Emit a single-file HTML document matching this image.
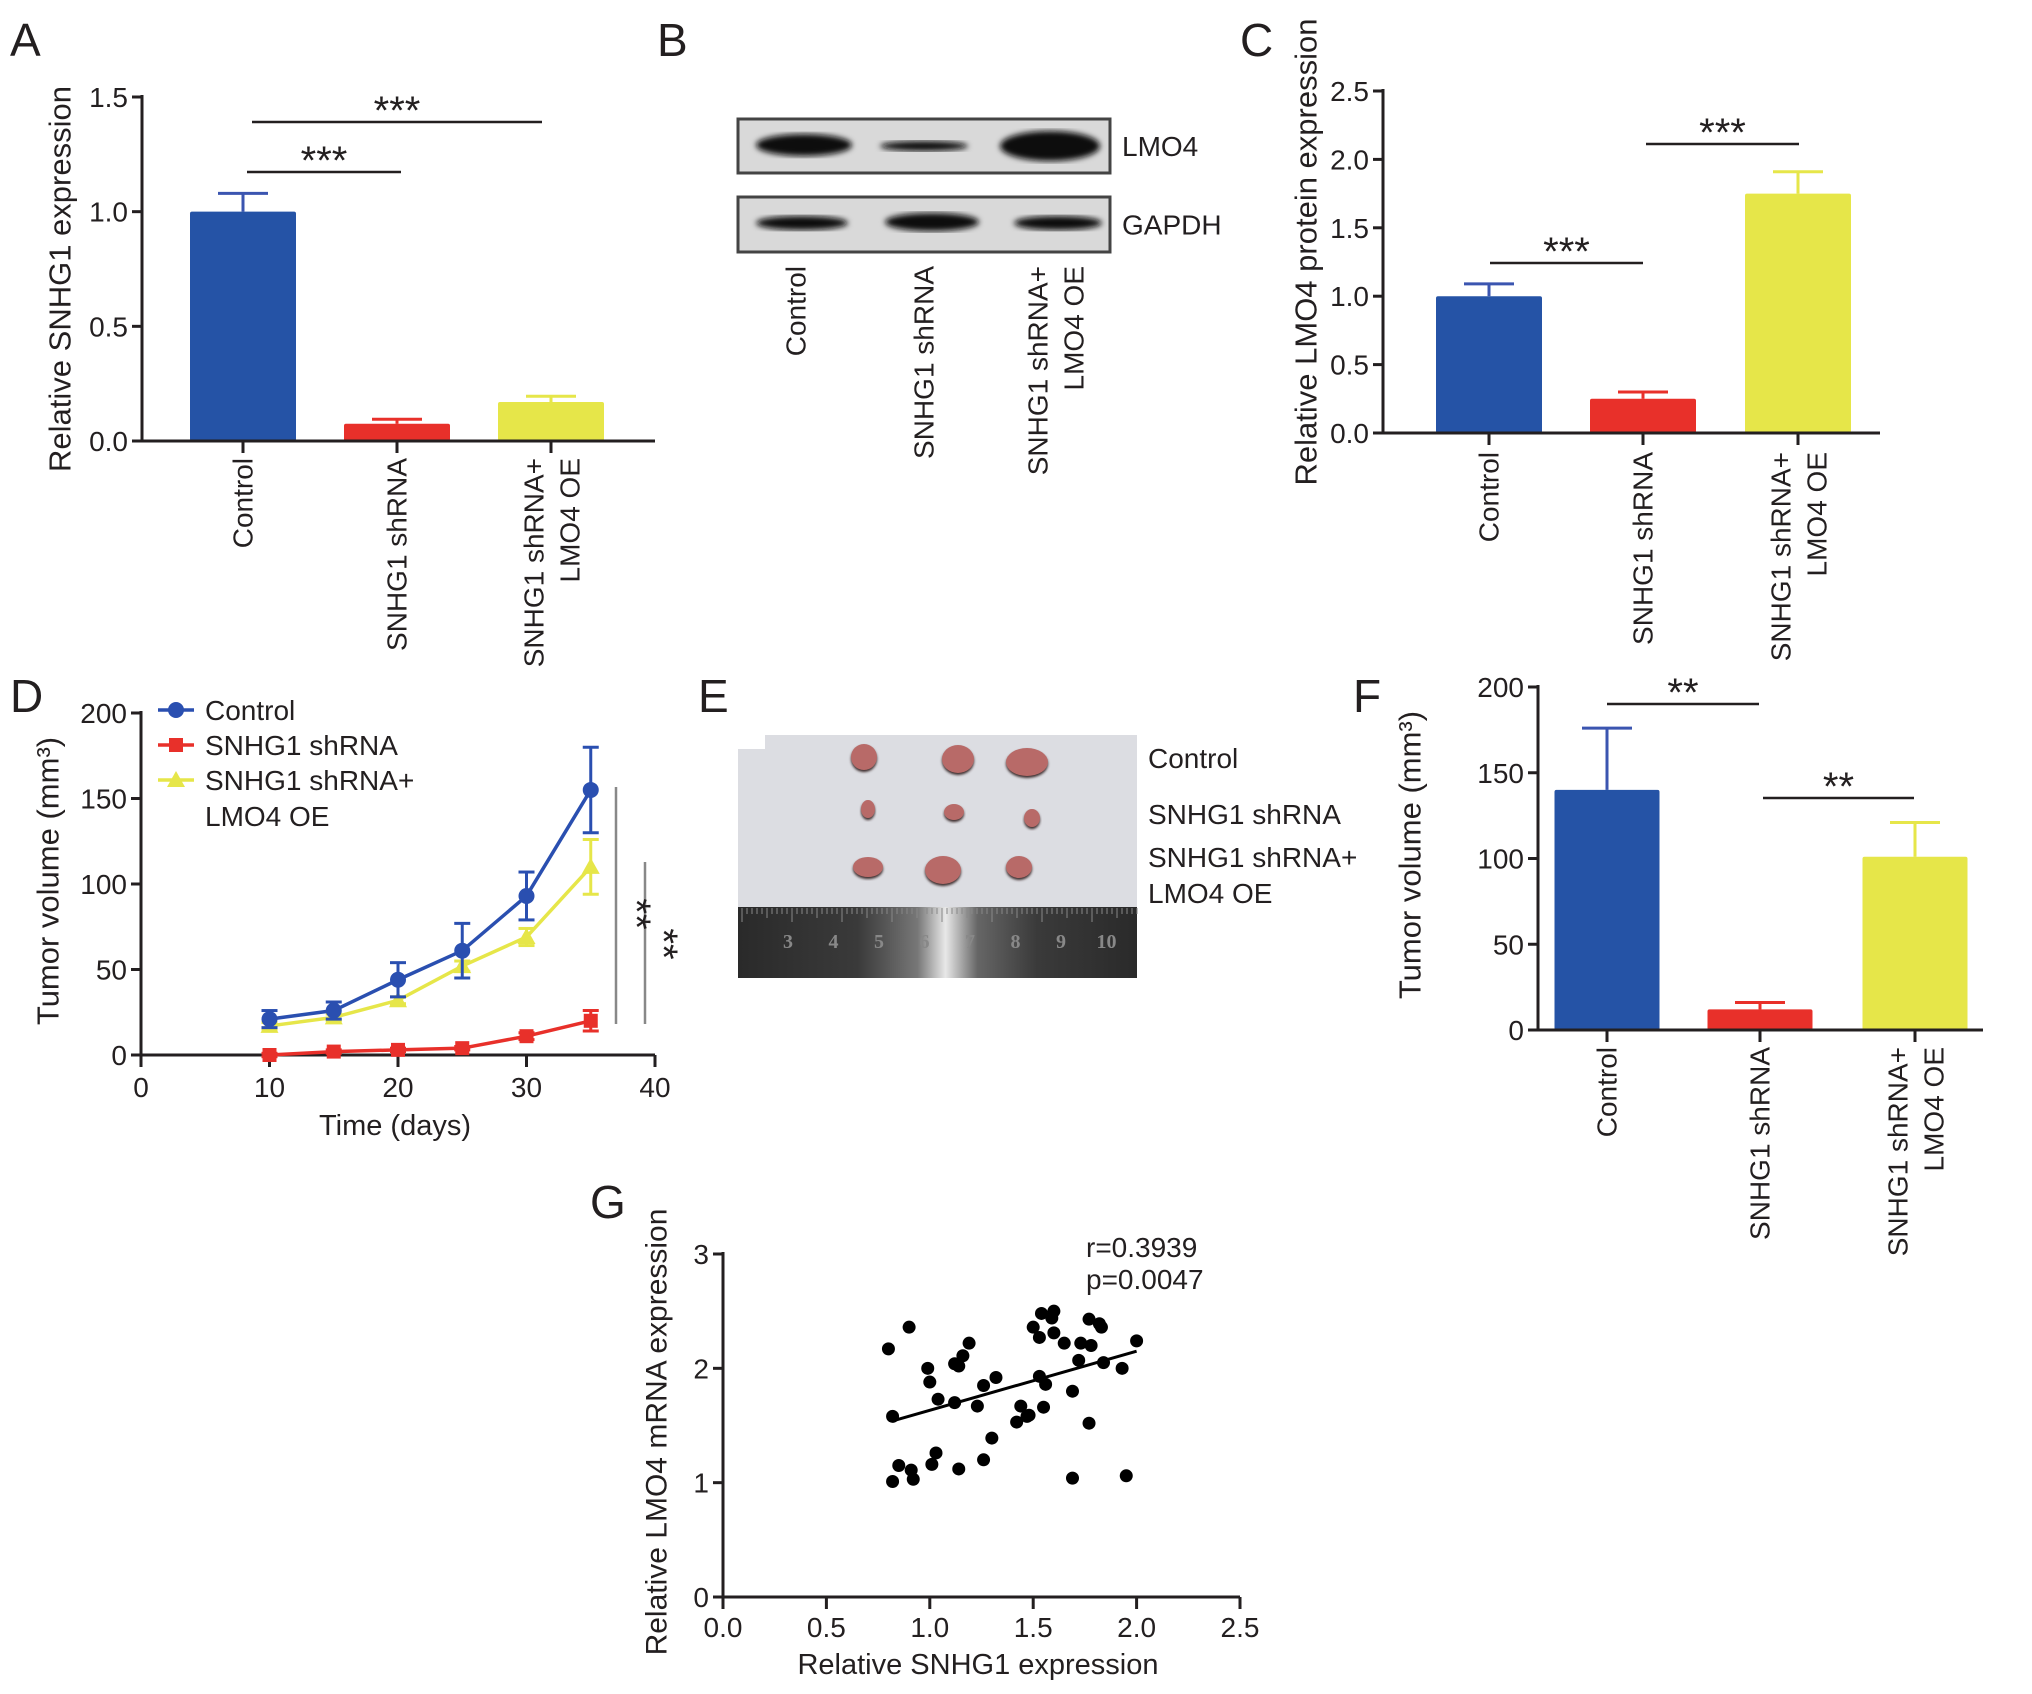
<!DOCTYPE html>
<html><head><meta charset="utf-8">
<style>
html,body{margin:0;padding:0;background:#fff;}
svg{display:block;font-family:"Liberation Sans",Arial,sans-serif;}
</style></head>
<body>
<svg id="fig" width="2032" height="1694" viewBox="0 0 2032 1694" xmlns="http://www.w3.org/2000/svg">
<defs>
<filter id="blur3"><feGaussianBlur stdDeviation="3"/></filter>
<filter id="blur1"><feGaussianBlur stdDeviation="1.2"/></filter>
<linearGradient id="rulerGrad" x1="0" x2="1" y1="0" y2="0">
<stop offset="0" stop-color="#2a2a2a"/><stop offset="0.3" stop-color="#3a3a3a"/><stop offset="0.45" stop-color="#777"/><stop offset="0.52" stop-color="#e8e8e8"/><stop offset="0.6" stop-color="#666"/><stop offset="0.75" stop-color="#3a3a3a"/><stop offset="1" stop-color="#2a2a2a"/>
</linearGradient>
</defs>
<g id="root"></g>
</svg>
<script>
// ---------- DATA ----------
const barCats = ["Control", "SNHG1 shRNA", "SNHG1 shRNA+|LMO4 OE"];
const aValues = [1.0, 0.075, 0.17];
const aErrors = [0.08, 0.02, 0.025];
const aTicks = ["0.0", "0.5", "1.0", "1.5"];
const cValues = [1.0, 0.25, 1.75];
const cErrors = [0.09, 0.05, 0.16];
const cTicks = ["0.0", "0.5", "1.0", "1.5", "2.0", "2.5"];
const fValues = [140, 12, 101];
const fErrors = [36, 4, 20];
const fTicks = ["0", "50", "100", "150", "200"];
const dDays = [10, 15, 20, 25, 30, 35];
const dControl = [21, 26, 44, 61, 93, 155];
const dControlErr = [5, 5, 10, 16, 14, 25];
const dShrna = [0, 2, 3, 4, 11, 20];
const dShrnaErr = [1, 1, 1, 1, 2, 6];
const dOE = [17, 22, 32, 52, 69, 110];
const dOEErr = [2, 2, 2, 3, 5, 16];
const dYTicks = ["0", "50", "100", "150", "200"];
const dXTicks = ["0", "10", "20", "30", "40"];
const gX = [0.80,0.82,0.82,0.85,0.90,0.91,0.92,0.99,1.00,1.01,1.03,1.04,1.12,1.12,1.14,1.14,1.16,1.19,1.23,1.26,1.26,1.30,1.32,1.42,1.44,1.47,1.48,1.50,1.53,1.53,1.54,1.55,1.56,1.59,1.60,1.60,1.65,1.69,1.69,1.72,1.73,1.77,1.77,1.78,1.82,1.83,1.84,1.93,1.95,2.00];
const gY = [2.17,1.58,1.01,1.15,2.36,1.11,1.03,2.00,1.88,1.16,1.26,1.73,2.04,1.70,2.02,1.12,2.11,2.22,1.67,1.85,1.20,1.39,1.92,1.53,1.67,1.58,1.59,2.36,2.27,1.93,2.48,1.66,1.86,2.44,2.50,2.31,2.22,1.80,1.04,2.07,2.22,1.52,2.43,2.20,2.39,2.36,2.05,2.00,1.06,2.24];
const gFit = [0.517, 1.116]; // slope, intercept
const gFitRange = [0.82, 2.0];
const gXTicks = ["0.0", "0.5", "1.0", "1.5", "2.0", "2.5"];
const gYTicks = ["0", "1", "2", "3"];

// ---------- HELPERS ----------
const NS = "http://www.w3.org/2000/svg";
const root = document.getElementById("root");
function mk(tag, attrs, parent, name, inter) {
  const el = document.createElementNS(NS, tag);
  for (const k in attrs) el.setAttribute(k, attrs[k]);
  
  
  (parent || root).appendChild(el);
  return el;
}
function txt(s, x, y, size, parent, name, extra) {
  const a = Object.assign({x: x, y: y, "font-size": size, fill: "#231f20"}, extra || {});
  const t = mk("text", a, parent, name, false);
  t.textContent = s;
  return t;
}
function line(x1, y1, x2, y2, stroke, w, parent, name) {
  return mk("line", {x1: x1, y1: y1, x2: x2, y2: y2, stroke: stroke, "stroke-width": w}, parent, name, false);
}
function rotLabel(s, x, yTop, size, parent, name) {
  return txt(s, x, yTop, size, parent, name, {"text-anchor": "end", "dominant-baseline": "central", transform: "rotate(-90 " + x + " " + yTop + ")"});
}
function letter(s, x, y) { txt(s, x, y, 46, root, "panel-label-" + s.toLowerCase()); }

const COLORS = ["#2553a6", "#e8302a", "#e6e649"];
const ECOL = ["#3b55b0", "#e8302a", "#e6e649"];

function barChart(id, o) {
  const g = mk("g", {}, root, "panel-" + id, false);
  const ys = v => o.y0 - (v / o.ymax) * (o.y0 - o.ytop);
  o.values.forEach((v, i) => {
    const cx = o.cx[i];
    const top = ys(v + o.errors[i]);
    line(cx, ys(v), cx, top, ECOL[i], 3, g, "error-bar-" + id + "-" + i);
    line(cx - 25, top, cx + 25, top, ECOL[i], 3, g, "error-cap-" + id + "-" + i);
    mk("rect", {x: cx - o.bw / 2, y: ys(v), width: o.bw, height: o.y0 - ys(v), fill: COLORS[i], rx: 2}, g, "bar-" + id + "-" + i, false);
  });
  line(o.ax, o.ytop - 2, o.ax, o.y0 + 1.5, "#231f20", 3, g, "y-axis-" + id);
  line(o.ax - 10, o.y0, o.xend, o.y0, "#231f20", 3, g, "x-axis-" + id);
  o.ticks.forEach((t, i) => {
    const v = parseFloat(t); const y = ys(v);
    line(o.ax - 10, y, o.ax, y, "#231f20", 3, g, "y-tick-" + id);
    txt(t, o.ax - 14, y + 10, 28, g, "y-tick-label-" + id, {"text-anchor": "end"});
  });
  barCats.forEach((c, i) => {
    const cx = o.cx[i];
    line(cx, o.y0, cx, o.y0 + 12, "#231f20", 3, g, "x-tick-" + id);
    const parts = c.split("|");
    if (parts.length === 1) rotLabel(parts[0], cx, o.labTop, 28, g, "x-label-" + id);
    else { rotLabel(parts[0], cx - 17, o.labTop, 28, g, "x-label-" + id); rotLabel(parts[1], cx + 19, o.labTop, 28, g, "x-label-" + id); }
  });
  txt(o.title, o.titleX, o.titleY, o.titleSize || 30, g, "y-axis-title-" + id, {"text-anchor": "middle", "dominant-baseline": "central", transform: "rotate(-90 " + o.titleX + " " + o.titleY + ")"});
  o.sig.forEach((s, i) => {
    line(s[0], s[2], s[1], s[2], "#231f20", 2.5, g, "significance-line-" + id);
    txt(s[3], (s[0] + s[1]) / 2, s[2] + 2, 40, g, "significance-stars-" + id, {"text-anchor": "middle"});
  });
}

// ---------- PANEL A ----------
letter("A", 10, 56);
barChart("a", {values: aValues, errors: aErrors, ticks: aTicks, ymax: 1.5, y0: 441, ytop: 97, ax: 142, xend: 655,
  cx: [243, 397, 551], bw: 106, labTop: 458, title: "Relative SNHG1 expression", titleX: 60, titleY: 279, titleSize: 31,
  sig: [[247, 401, 172, "***"], [252, 542, 122, "***"]]});

// ---------- PANEL C ----------
letter("C", 1240, 56);
barChart("c", {values: cValues, errors: cErrors, ticks: cTicks, ymax: 2.5, y0: 433, ytop: 91, ax: 1383, xend: 1880,
  cx: [1489, 1643, 1798], bw: 106, labTop: 452,
  title: "Relative LMO4 protein expression", titleX: 1306, titleY: 252, titleSize: 31,
  sig: [[1490, 1643, 263, "***"], [1646, 1799, 144, "***"]]});

// ---------- PANEL F ----------
letter("F", 1353, 712);
barChart("f", {values: fValues, errors: fErrors, ticks: fTicks, ymax: 200, y0: 1030, ytop: 687, ax: 1538, xend: 1983,
  cx: [1607, 1760, 1915], bw: 105, labTop: 1047, title: "Tumor volume (mm³)", titleX: 1410, titleY: 855, titleSize: 31,
  sig: [[1607, 1759, 704, "**"], [1763, 1914, 798, "**"]]});

// ---------- PANEL B (western blot) ----------
letter("B", 657, 56);
(function () {
  const g = mk("g", {}, root, "panel-b-western-blot", false);
  const boxes = [[119, 173, "LMO4"], [197, 252, "GAPDH"]];
  const bands = [
    [[804, 145, 48, 11], [924, 146, 44, 5], [1050, 146, 50, 15]],
    [[802, 223, 46, 7], [932, 222, 47, 9], [1058, 223, 44, 7]]
  ];
  boxes.forEach((b, i) => {
    mk("rect", {x: 738, y: b[0], width: 372, height: b[1] - b[0], fill: "#d9d9d9", stroke: "#444", "stroke-width": 3}, g, "blot-strip-" + b[2].toLowerCase(), false);
    bands[i].forEach((bd, j) => {
      mk("ellipse", {cx: bd[0], cy: bd[1], rx: bd[2], ry: bd[3], fill: "#0a0a0a", filter: "url(#blur3)"}, g, "blot-band", false);
    });
    txt(b[2], 1122, (b[0] + b[1]) / 2 + 10, 28, g, "blot-label-" + b[2].toLowerCase());
  });
  rotLabel("Control", 796, 266, 28, g, "lane-label-control");
  rotLabel("SNHG1 shRNA", 924, 266, 28, g, "lane-label-shrna");
  rotLabel("SNHG1 shRNA+", 1038, 266, 28, g, "lane-label-shrna-oe");
  rotLabel("LMO4 OE", 1074, 266, 28, g, "lane-label-shrna-oe");
})();

// ---------- PANEL D (growth curves) ----------
letter("D", 10, 712);
(function () {
  const g = mk("g", {}, root, "panel-d", false);
  const x0 = 141, x1 = 655, y0 = 1055, yt = 713;
  const xs = v => x0 + v / 40 * (x1 - x0);
  const ys = v => y0 - v / 200 * (y0 - yt);
  line(x0, yt - 2, x0, y0 + 1.5, "#231f20", 3, g, "y-axis-d");
  line(x0 - 10, y0, x1, y0, "#231f20", 3, g, "x-axis-d");
  dYTicks.forEach(t => { const y = ys(+t); line(x0 - 10, y, x0, y, "#231f20", 3, g, "y-tick-d"); txt(t, x0 - 14, y + 10, 28, g, "y-tick-label-d", {"text-anchor": "end"}); });
  dXTicks.forEach(t => { const x = xs(+t); line(x, y0, x, y0 + 12, "#231f20", 3, g, "x-tick-d"); txt(t, x, y0 + 42, 28, g, "x-tick-label-d", {"text-anchor": "middle"}); });
  txt("Time (days)", 395, 1135, 29, g, "x-axis-title-d", {"text-anchor": "middle"});
  txt("Tumor volume (mm³)", 48, 881, 31, g, "y-axis-title-d", {"text-anchor": "middle", "dominant-baseline": "central", transform: "rotate(-90 48 881)"});
  const series = [
    [dOE, dOEErr, "#e6e649", "tri", "series-oe"],
    [dControl, dControlErr, "#2a4fb0", "circ", "series-control"],
    [dShrna, dShrnaErr, "#e8302a", "sq", "series-shrna"]
  ];
  function marker(shape, x, y, col, name) {
    if (shape === "circ") mk("circle", {cx: x, cy: y, r: 8, fill: col}, g, name, false);
    else if (shape === "sq") mk("rect", {x: x - 7, y: y - 7, width: 14, height: 14, fill: col}, g, name, false);
    else mk("polygon", {points: (x) + "," + (y - 9) + " " + (x - 9) + "," + (y + 7) + " " + (x + 9) + "," + (y + 7), fill: col}, g, name, false);
  }
  series.forEach(s => {
    const pts = dDays.map((d, i) => xs(d) + "," + ys(s[0][i])).join(" ");
    mk("polyline", {points: pts, fill: "none", stroke: s[2], "stroke-width": 3.5}, g, s[4] + "-line", false);
    dDays.forEach((d, i) => {
      const x = xs(d), v = s[0][i], e = s[1][i];
      line(x, ys(v - e), x, ys(v + e), s[2], 3, g, s[4] + "-error");
      line(x - 8, ys(v + e), x + 8, ys(v + e), s[2], 3, g, s[4] + "-error-cap");
      line(x - 8, ys(v - e), x + 8, ys(v - e), s[2], 3, g, s[4] + "-error-cap");
      marker(s[3], x, ys(v), s[2], s[4] + "-point");
    });
  });
  const leg = [["Control", "#2a4fb0", "circ", 710], ["SNHG1 shRNA", "#e8302a", "sq", 745], ["SNHG1 shRNA+", "#e6e649", "tri", 780]];
  leg.forEach(l => {
    line(158, l[3], 194, l[3], l[1], 3.5, g, "legend-line");
    marker(l[2], 176, l[3], l[1], "legend-marker");
    txt(l[0], 205, l[3] + 10, 28, g, "legend-entry");
  });
  txt("LMO4 OE", 205, 826, 28, g, "legend-entry");
  line(616, 787, 616, 1024, "#888", 2.5, g, "significance-line-d");
  line(645, 862, 645, 1024, "#888", 2.5, g, "significance-line-d");
  txt("**", 636, 914, 40, g, "significance-stars-d", {"text-anchor": "middle", "dominant-baseline": "central", transform: "rotate(90 636 914)"});
  txt("**", 663, 944, 40, g, "significance-stars-d", {"text-anchor": "middle", "dominant-baseline": "central", transform: "rotate(90 663 944)"});
})();

// ---------- PANEL E (photo) ----------
letter("E", 698, 712);
(function () {
  const g = mk("g", {}, root, "panel-e-tumor-photo", false);
  mk("polygon", {points: "765,735 1137,735 1137,908 738,908 738,749 765,749", fill: "#dcdde2"}, g, "photo-background", false);
  mk("rect", {x: 738, y: 907, width: 399, height: 71, fill: "url(#rulerGrad)"}, g, "ruler", false);
  for (let i = 0; i < 80; i++) {
    const x = 742 + i * 5; const h = i % 10 === 0 ? 14 : (i % 5 === 0 ? 10 : 6);
    line(x, 908, x, 908 + h, "#888", 1, g, "ruler-tick");
  }
  ["3", "4", "5", "6", "7", "8", "9", "10"].forEach((n, i) => {
    txt(n, 788 + i * 45.5, 948, 20, g, "ruler-number", {"text-anchor": "middle", fill: "#888", "font-family": "Liberation Serif", "font-weight": "bold"});
  });
  const tumors = [[864, 757, 13, 13], [958, 759, 16, 14], [1027, 762, 21, 14], [868, 809, 7, 9], [954, 812, 10, 8], [1032, 818, 8, 9], [868, 867, 15, 10], [943, 870, 18, 14], [1019, 867, 13, 11]];
  tumors.forEach(t => {
    mk("ellipse", {cx: t[0], cy: t[1] + 2, rx: t[2], ry: t[3], fill: "#3a2a2a", filter: "url(#blur1)"}, g, "tumor-shadow", false);
    mk("ellipse", {cx: t[0], cy: t[1], rx: t[2], ry: t[3], fill: "#b86a68"}, g, "tumor", false);
  });
  txt("Control", 1148, 768, 28, g, "photo-label-control");
  txt("SNHG1 shRNA", 1148, 824, 28, g, "photo-label-shrna");
  txt("SNHG1 shRNA+", 1148, 867, 28, g, "photo-label-shrna-oe");
  txt("LMO4 OE", 1148, 903, 28, g, "photo-label-shrna-oe");
})();

// ---------- PANEL G (scatter) ----------
letter("G", 590, 1218);
(function () {
  const g = mk("g", {}, root, "panel-g", false);
  const x0 = 723, x1 = 1240, y0 = 1597, yt = 1254;
  const xs = v => x0 + v / 2.5 * (x1 - x0);
  const ys = v => y0 - v / 3 * (y0 - yt);
  line(x0, yt - 2, x0, y0 + 1.5, "#231f20", 3, g, "y-axis-g");
  line(x0 - 10, y0, x1, y0, "#231f20", 3, g, "x-axis-g");
  gYTicks.forEach(t => { const y = ys(+t); line(x0 - 10, y, x0, y, "#231f20", 3, g, "y-tick-g"); txt(t, x0 - 14, y + 10, 28, g, "y-tick-label-g", {"text-anchor": "end"}); });
  gXTicks.forEach(t => { const x = xs(+t); line(x, y0, x, y0 + 12, "#231f20", 3, g, "x-tick-g"); txt(t, x, y0 + 40, 28, g, "x-tick-label-g", {"text-anchor": "middle"}); });
  txt("Relative SNHG1 expression", 978, 1674, 29, g, "x-axis-title-g", {"text-anchor": "middle"});
  txt("Relative LMO4 mRNA expression", 657, 1432, 30, g, "y-axis-title-g", {"text-anchor": "middle", "dominant-baseline": "central", transform: "rotate(-90 657 1432)"});
  gX.forEach((v, i) => {
    mk("circle", {cx: xs(v), cy: ys(gY[i]), r: 6.5, fill: "#000"}, g, "scatter-point", false);
  });
  const fy = x => gFit[0] * x + gFit[1];
  line(xs(gFitRange[0]), ys(fy(gFitRange[0])), xs(gFitRange[1]), ys(fy(gFitRange[1])), "#000", 3, g, "regression-line");
  txt("r=0.3939", 1086, 1257, 28, g, "correlation-r");
  txt("p=0.0047", 1086, 1289, 28, g, "correlation-p");
})();
</script>
</body></html>
